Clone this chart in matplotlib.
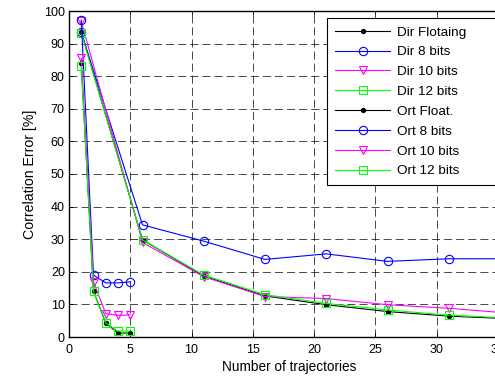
import numpy as np
import matplotlib
matplotlib.use('Agg')
import matplotlib.pyplot as plt

plt.rcParams['font.family'] = ['Liberation Sans', 'DejaVu Sans']
plt.rcParams['font.size'] = 9
plt.rcParams['lines.scale_dashes'] = False

# direct method: trajectories 1, 6, 11, ...
x_dir = [1, 6, 11, 16, 21, 26, 31, 36]
dir_float = [93.5, 29.8, 18.7, 12.6, 9.9, 7.8, 6.4, 5.6]
dir_8 = [93.5, 34.4, 29.4, 23.8, 25.5, 23.2, 24.0, 24.0]
dir_10 = [96.8, 29.0, 18.5, 12.4, 11.8, 9.9, 8.8, 7.3]
dir_12 = [93.2, 29.8, 19.0, 13.0, 10.3, 8.3, 6.7, 5.8]

# orthogonal method: trajectories 1..5
x_ort = [1, 2, 3, 4, 5]
ort_float = [84.0, 14.0, 4.3, 1.2, 1.2]
ort_8 = [97.2, 19.0, 16.6, 16.6, 16.9]
ort_10 = [85.5, 16.9, 7.2, 6.6, 6.8]
ort_12 = [83.0, 14.0, 4.3, 1.8, 1.8]

labels = ['Dir Flotaing', 'Dir 8 bits', 'Dir 10 bits', 'Dir 12 bits',
          'Ort Float.', 'Ort 8 bits', 'Ort 10 bits', 'Ort 12 bits']

W, H = 495, 376
fig = plt.figure(figsize=(W/100, H/100), dpi=100)
# axes runs off the right side of the picture (cropped original)
x0, x1, ytop, ybot = 69, 510, 11, 337
ax = fig.add_axes([x0/W, (H-ybot)/H, (x1-x0)/W, (ybot-ytop)/H])

styles = [dict(color='k', marker='.', ms=6),
          dict(color='b', marker='o', ms=6, mfc='none'),
          dict(color='#ff00ff', marker='v', ms=6, mfc='none'),
          dict(color='#00ff00', marker='s', ms=6, mfc='none')]

series = [(x_dir, dir_float), (x_dir, dir_8), (x_dir, dir_10), (x_dir, dir_12),
          (x_ort, ort_float), (x_ort, ort_8), (x_ort, ort_10), (x_ort, ort_12)]

for i in range(len(series)):
    xs, ys = series[i]
    ax.plot(xs, ys, lw=0.8, mew=0.8, label=labels[i], **styles[i % 4])

ax.set_xlim(0, 36)
ax.set_ylim(0, 100)
ax.set_xticks(np.arange(0, 36, 5))
ax.set_yticks(np.arange(0, 101, 10))
ax.tick_params(direction='in', top=True, right=True, length=3, width=0.6, pad=3)
ax.tick_params(axis='x', pad=5)
ax.grid(True, color='k', linestyle=(0, (5.8, 2.9)), linewidth=0.5)
for s in ax.spines.values():
    s.set_linewidth(1.0)

ax.set_xlabel('Number of trajectories', fontsize=9.8, labelpad=3)
ax.set_ylabel('Correlation Error [%]', fontsize=10.2, labelpad=5)

# legend box is wider than the visible picture
leg = ax.legend(loc='upper left', bbox_to_anchor=(327/W, 1 - 18/H, 180/W, 0),
                bbox_transform=fig.transFigure, mode='expand', fancybox=False,
                framealpha=1, edgecolor='k', fontsize=9.7, handlelength=4.1,
                handletextpad=0.5, borderpad=0.6, labelspacing=0.55,
                borderaxespad=0)
leg.get_frame().set_linewidth(0.8)

plt.savefig('out.png', dpi=100)
